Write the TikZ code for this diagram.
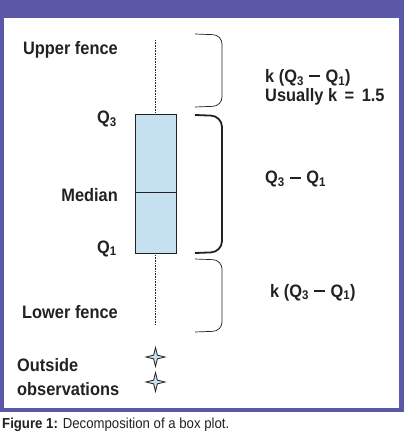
\documentclass[tikz,border=0pt]{standalone}
\usepackage{fontspec}
\setmainfont{Liberation Sans}[FakeStretch=0.91]
\usetikzlibrary{positioning,shapes.geometric}
\definecolor{framepurple}{RGB}{92,88,168}
\definecolor{boxblue}{RGB}{197,225,240}
\definecolor{inkgrey}{RGB}{34,34,34}
\newcommand{\minussign}{\hspace{0.3em}\rule[0.3em]{0.6em}{0.1em}\hspace{0.3em}}

\begin{document}
\begin{tikzpicture}[
  x=1pt, y=-1pt,
  font=\fontsize{18}{18}\selectfont\bfseries,
  lbl/.style={anchor=base east, inner sep=0pt, text=inkgrey},
  rlbl/.style={anchor=base west, inner sep=0pt, text=inkgrey},
  whisker/.style={densely dotted, line width=0.6pt, inkgrey},
  qbox/.style={draw=inkgrey, fill=boxblue, line width=0.6pt, minimum width=41pt, minimum height=139pt, inner sep=0pt},
  thinbr/.style={line width=0.7pt, inkgrey, rounded corners=9pt},
  thickbr/.style={line width=1.8pt, inkgrey, rounded corners=11pt},
  obs/.style={star, star points=4, star point ratio=3.6, minimum size=19pt, inner sep=0pt, draw=inkgrey, fill=boxblue, line width=0.8pt}
]
\useasboundingbox (0,0) rectangle (404,435);
% ---------- frame ----------
\fill[framepurple] (0,0) rectangle (404,412);
\fill[white] (4,18) rectangle (399,408);
% ---------- box and whiskers ----------
\node[qbox] (box) at (155.5,183.5) {};
\draw[inkgrey, line width=0.6pt] (box.west |- 0,192) -- (box.east |- 0,192);
\coordinate (ufence) at (155.5,40);
\coordinate (lfence) at (155.5,325);
\draw[whisker] (ufence) -- (box.north);
\draw[whisker] (box.south) -- (lfence);
\node[obs] (o1) at (155.5,357) {};
\node[obs] (o2) at (155.5,382) {};
% ---------- left labels ----------
\node[lbl] (upper) at (118,55) {Upper fence};
\node[lbl] (q3) at (117,124) {Q\textsubscript{3}};
\node[lbl] (median) at (118,202) {Median};
\node[lbl] (q1) at (117,253) {Q\textsubscript{1}};
\node[lbl] (lower) at (118,318) {Lower fence};
\node[anchor=west, inner sep=0pt, align=left, text=inkgrey] (outside) at (17,377)
  {Outside\\[6pt]observations};
% ---------- braces ----------
\draw[thinbr] (195,34) -- (222,35) -- (222,106) -- (195,107);
\draw[thickbr] (195,115) -- (222,116) -- (222,252) -- (195,253);
\draw[thinbr] (195,259) -- (222,260) -- (222,331) -- (195,332);
% ---------- right labels ----------
\node[anchor=west, inner sep=0pt, align=left, text=inkgrey] (kupper) at (265,87.5)
  {k (Q\textsubscript{3}\minussign Q\textsubscript{1})\\[1pt]Usually k \,=\, 1.5};
\node[rlbl] (iqr) at (265,184) {Q\textsubscript{3}\minussign Q\textsubscript{1}};
\node[rlbl] (klower) at (270,297) {k (Q\textsubscript{3}\minussign Q\textsubscript{1})};
% ---------- caption ----------
\node[anchor=base west, inner sep=0pt, text=inkgrey, font=\fontsize{14.5}{16}\selectfont\mdseries] (caption) at (2,428)
  {\textbf{Figure 1:} Decomposition of a box plot.};
\end{tikzpicture}
\end{document}
